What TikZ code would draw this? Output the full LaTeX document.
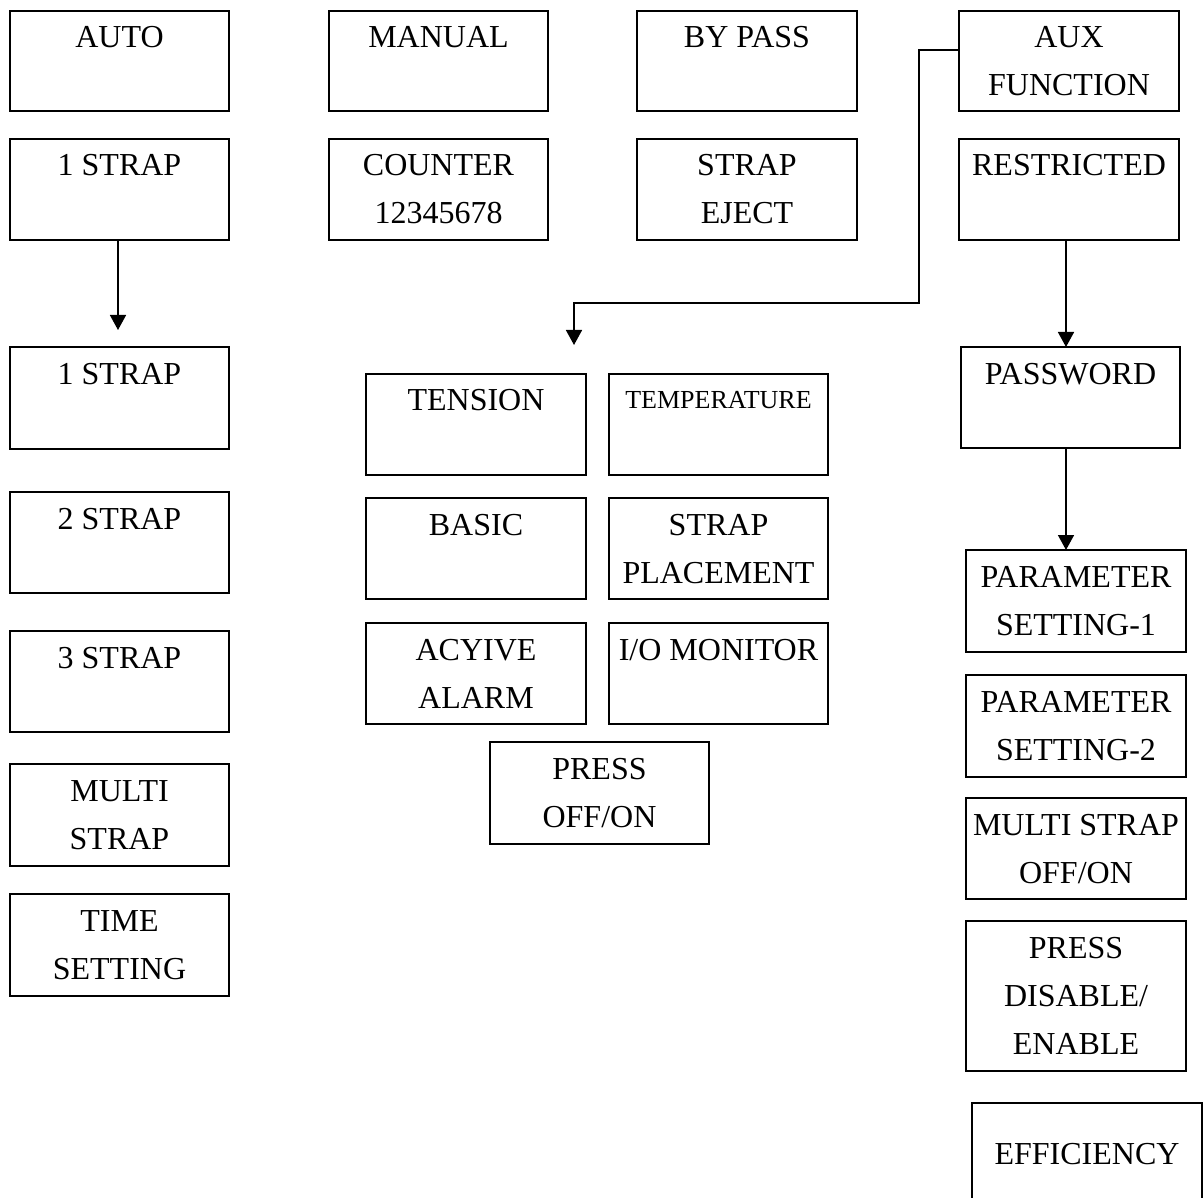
\documentclass[tikz,border=0pt]{standalone}
\usepackage{fontspec}
\setmainfont{Liberation Serif}
\usetikzlibrary{arrows.meta,calc}
\tikzset{
  bx/.style={draw, line width=2pt, inner sep=0pt, outer sep=0pt, anchor=north west,
    font=\fontsize{32pt}{48pt}\selectfont},
  conn/.style={line width=1.6pt, -{Triangle[width=16pt,length=15pt]}}
}
\newcommand\mybox[7][37pt]{%
  \node[bx, minimum width=#5pt, minimum height=#6pt] (#2) at (#3,#4)
    {\parbox[c][#6pt][t]{#5pt}{\centering\rule{0pt}{#1}#7}};}
\begin{document}
\begin{tikzpicture}[x=1pt,y=-1pt]
\useasboundingbox (0,0) rectangle (1203,1198);
% left column
\mybox{auto}{10}{11}{219}{100}{AUTO}
\mybox{strapA}{10}{139}{219}{101}{1 STRAP}
\mybox{strapB}{10}{347}{219}{102}{1 STRAP}
\mybox{strapC}{10}{492}{219}{101}{2 STRAP}
\mybox{strapD}{10}{631}{219}{101}{3 STRAP}
\mybox{multi}{10}{764}{219}{102}{MULTI\\STRAP}
\mybox{timeset}{10}{894}{219}{102}{TIME\\SETTING}
% second column
\mybox{manual}{329}{11}{219}{100}{MANUAL}
\mybox{counter}{329}{139}{219}{101}{COUNTER\\12345678}
% third column
\mybox{bypass}{637}{11}{220}{100}{BY PASS}
\mybox{eject}{637}{139}{220}{101}{STRAP\\EJECT}
% fourth column
\mybox{aux}{959}{11}{220}{100}{AUX\\FUNCTION}
\mybox{restricted}{959}{139}{220}{101}{RESTRICTED}
\mybox{password}{961}{347}{219}{101}{PASSWORD}
\mybox{paramA}{966}{550}{220}{102}{PARAMETER\\SETTING-1}
\mybox{paramB}{966}{675}{220}{102}{PARAMETER\\SETTING-2}
\mybox{mso}{966}{798}{220}{101}{MULTI STRAP\\OFF/ON}
\mybox{pde}{966}{921}{220}{150}{PRESS\\DISABLE/\\ENABLE}
\mybox[61pt]{eff}{972}{1103}{230}{120}{EFFICIENCY}
% middle grid
\mybox{tension}{366}{374}{220}{101}{TENSION}
\mybox[35pt]{temperature}{609}{374}{219}{101}{\fontsize{26pt}{39pt}\selectfont TEMPERATURE}
\mybox{basic}{366}{498}{220}{101}{BASIC}
\mybox{placement}{609}{498}{219}{101}{STRAP\\PLACEMENT}
\mybox{alarm}{366}{623}{220}{101}{ACYIVE\\ALARM}
\mybox{iomon}{609}{623}{219}{101}{I/O MONITOR}
\mybox{pressoo}{490}{742}{219}{102}{PRESS\\OFF/ON}
% connectors
\coordinate (lx) at (118,0);
\coordinate (rx) at (1066,0);
\draw[conn] (strapA.south -| lx) -- ($(strapB.north -| lx)+(0,-17)$);
\draw[conn] (restricted.south -| rx) -- (password.north -| rx);
\draw[conn] (password.south -| rx) -- (paramA.north -| rx);
\coordinate (auxend) at (574,345);
\draw[conn] ([yshift=11pt]aux.west) -| (919,303) -| (auxend);
\end{tikzpicture}
\end{document}
